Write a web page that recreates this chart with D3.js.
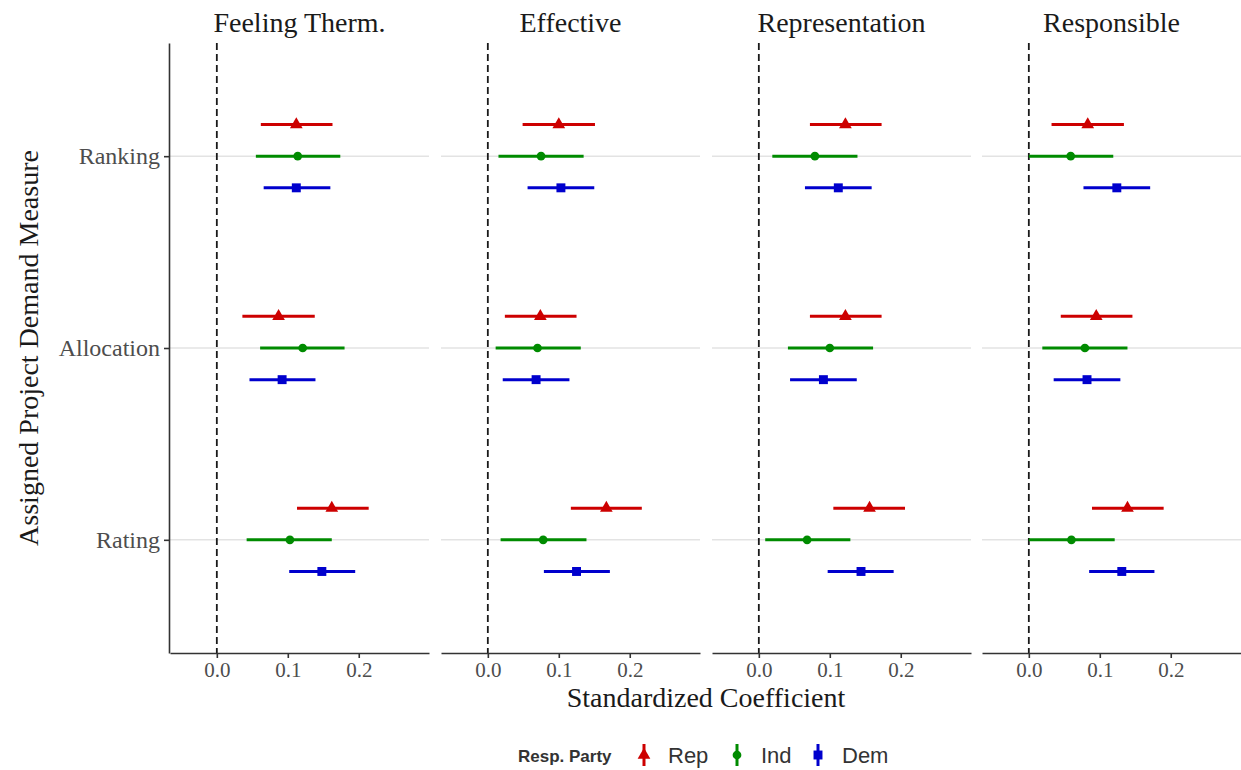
<!DOCTYPE html>
<html>
<head>
<meta charset="utf-8">
<script src="https://cdn.jsdelivr.net/npm/d3@7"></script>
<style>
  html, body { margin: 0; padding: 0; background: #ffffff; }
  svg { display: block; }
</style>
</head>
<body>
<svg id="chart" width="1241" height="770"></svg>
<script>
// Facets (outcome measures), rows (demand measure) and respondent party groups
const facets = ["Feeling Therm.", "Effective", "Representation", "Responsible"];
const measures = ["Ranking", "Allocation", "Rating"];
const parties = ["Rep", "Ind", "Dem"];
const xTicks = [0.0, 0.1, 0.2];

// Point estimates, one row per facet, columns follow `measures`
const repEst = [[0.112, 0.087, 0.162], [0.100, 0.074, 0.167], [0.122, 0.122, 0.156], [0.083, 0.095, 0.139]];
const repLo  = [[0.062, 0.036, 0.113], [0.049, 0.024, 0.117], [0.072, 0.072, 0.105], [0.032, 0.045, 0.089]];
const repHi  = [[0.163, 0.138, 0.214], [0.151, 0.125, 0.217], [0.173, 0.173, 0.206], [0.134, 0.146, 0.190]];

const indEst = [[0.114, 0.121, 0.103], [0.075, 0.070, 0.078], [0.079, 0.100, 0.068], [0.059, 0.079, 0.060]];
const indLo  = [[0.055, 0.061, 0.042], [0.015, 0.011, 0.018], [0.019, 0.041, 0.009], [0.000, 0.019, 0.000]];
const indHi  = [[0.174, 0.180, 0.162], [0.135, 0.131, 0.139], [0.139, 0.161, 0.129], [0.119, 0.139, 0.121]];

const demEst = [[0.112, 0.092, 0.148], [0.103, 0.068, 0.125], [0.112, 0.091, 0.144], [0.124, 0.082, 0.131]];
const demLo  = [[0.066, 0.046, 0.102], [0.056, 0.021, 0.079], [0.065, 0.044, 0.097], [0.077, 0.035, 0.085]];
const demHi  = [[0.160, 0.139, 0.195], [0.150, 0.115, 0.172], [0.159, 0.138, 0.190], [0.171, 0.129, 0.177]];

const partyColor = { Rep: "#CD0000", Ind: "#008B00", Dem: "#0000CD" };
const partySymbol = { Rep: d3.symbolTriangle, Ind: d3.symbolCircle, Dem: d3.symbolSquare };
const partySize = { Rep: 70, Ind: 60, Dem: 80 };
const partyDodge = { Rep: -0.165, Ind: 0, Dem: 0.165 };

// Flatten into rows for drawing
const series = { Rep: [repEst, repLo, repHi], Ind: [indEst, indLo, indHi], Dem: [demEst, demLo, demHi] };
const rows = [];
facets.forEach((f, fi) => {
  parties.forEach(p => {
    const [est, lo, hi] = series[p];
    measures.forEach((m, mi) => {
      rows.push({ facet: f, party: p, measure: m, est: est[fi][mi], lo: lo[fi][mi], hi: hi[fi][mi] });
    });
  });
});

const serif = "'Liberation Serif', 'Times New Roman', serif";
const sans = "'Liberation Sans', Arial, sans-serif";

const svg = d3.select("#chart");

// Layout
const panelTop = 43, panelBottom = 653;
const panelLefts = [170, 441, 712, 982];
const panelW = 259;

const x = d3.scaleLinear().domain([-0.066, 0.299]).range([0, panelW]);
const y = d3.scalePoint().domain(measures).range([panelTop, panelBottom]).padding(0.59);
const step = y.step();

facets.forEach((f, fi) => {
  const g = svg.append("g").attr("transform", `translate(${panelLefts[fi]},0)`);

  // horizontal grid lines at each row
  g.selectAll("line.grid").data(measures).join("line")
    .attr("class", "grid")
    .attr("x1", 0).attr("x2", panelW)
    .attr("y1", d => y(d)).attr("y2", d => y(d))
    .attr("stroke", "#e3e3e3").attr("stroke-width", 1.6);

  // reference line at zero
  g.append("line")
    .attr("x1", x(0)).attr("x2", x(0))
    .attr("y1", panelTop).attr("y2", panelBottom)
    .attr("stroke", "#1a1a1a").attr("stroke-width", 1.8)
    .attr("stroke-dasharray", "7,4");

  // strip title
  g.append("text")
    .attr("x", panelW / 2).attr("y", 32)
    .attr("text-anchor", "middle")
    .style("font-family", serif).style("font-size", "28px").attr("fill", "#1a1a1a")
    .text(f);

  const data = rows.filter(r => r.facet === f);

  // confidence intervals
  g.selectAll("line.ci").data(data).join("line")
    .attr("class", "ci")
    .attr("x1", d => x(d.lo)).attr("x2", d => x(d.hi))
    .attr("y1", d => y(d.measure) + partyDodge[d.party] * step)
    .attr("y2", d => y(d.measure) + partyDodge[d.party] * step)
    .attr("stroke", d => partyColor[d.party]).attr("stroke-width", 3);

  // point estimates
  g.selectAll("path.pt").data(data).join("path")
    .attr("class", "pt")
    .attr("transform", d => `translate(${x(d.est)},${y(d.measure) + partyDodge[d.party] * step})`)
    .attr("d", d => d3.symbol().type(partySymbol[d.party]).size(partySize[d.party])())
    .attr("fill", d => partyColor[d.party]);

  // x axis
  const xAxis = g.append("g")
    .attr("transform", `translate(0,${panelBottom})`)
    .call(d3.axisBottom(x).tickValues(xTicks).tickFormat(d3.format(".1f")).tickSize(5).tickSizeOuter(0).tickPadding(4));
  xAxis.select(".domain").attr("stroke", "#333").attr("stroke-width", 1.6);
  xAxis.selectAll(".tick line").attr("stroke", "#333").attr("stroke-width", 1.6);
  xAxis.selectAll(".tick text")
    .style("font-family", serif).style("font-size", "21px").attr("fill", "#4d4d4d");

  if (fi === 0) {
    const yAxis = g.append("g")
      .attr("transform", "translate(-1,0)")
      .call(d3.axisLeft(y).tickSize(5).tickSizeOuter(0).tickPadding(4));
    yAxis.select(".domain").attr("stroke", "#333").attr("stroke-width", 1.6);
    yAxis.selectAll(".tick line").attr("stroke", "#333").attr("stroke-width", 1.6);
    yAxis.selectAll(".tick text")
      .style("font-family", serif).style("font-size", "24px").attr("fill", "#4d4d4d");
  }
});

// axis titles
svg.append("text")
  .attr("x", 706).attr("y", 707)
  .attr("text-anchor", "middle")
  .style("font-family", serif).style("font-size", "28px").attr("fill", "#1a1a1a")
  .text("Standardized Coefficient");

svg.append("text")
  .attr("transform", "translate(38,348) rotate(-90)")
  .attr("text-anchor", "middle")
  .style("font-family", serif).style("font-size", "28px").attr("fill", "#1a1a1a")
  .text("Assigned Project Demand Measure");

// legend
const legend = svg.append("g");
legend.append("text")
  .attr("x", 518).attr("y", 762)
  .style("font-family", sans).style("font-size", "17px").style("font-weight", "bold").attr("fill", "#333")
  .text("Resp. Party");

const legendX = { Rep: 644, Ind: 737, Dem: 818 };
parties.forEach(p => {
  const lx = legendX[p];
  legend.append("line")
    .attr("x1", lx).attr("x2", lx).attr("y1", 744).attr("y2", 766)
    .attr("stroke", partyColor[p]).attr("stroke-width", 3);
  legend.append("path")
    .attr("transform", `translate(${lx},755)`)
    .attr("d", d3.symbol().type(partySymbol[p]).size(partySize[p])())
    .attr("fill", partyColor[p]);
  legend.append("text")
    .attr("x", lx + 24).attr("y", 763)
    .style("font-family", sans).style("font-size", "22px").attr("fill", "#333")
    .text(p);
});
</script>
</body>
</html>
